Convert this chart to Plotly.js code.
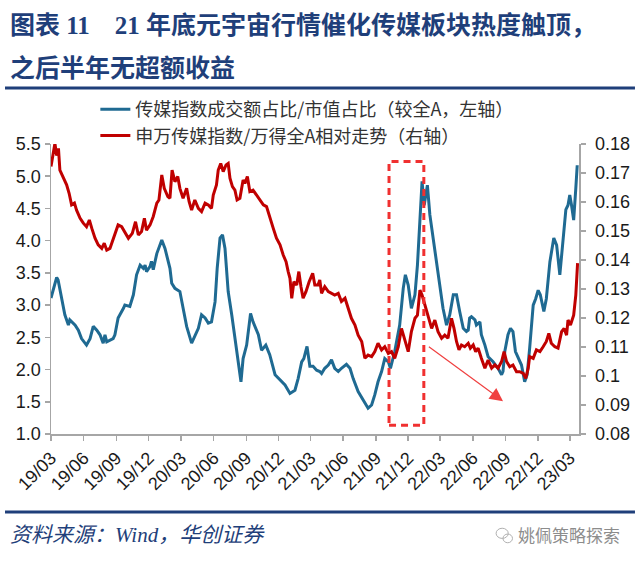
<!DOCTYPE html>
<html>
<head>
<meta charset="utf-8">
<script src="https://cdn.plot.ly/plotly-3.0.1.min.js"></script>
<style>html,body{margin:0;padding:0;background:#fff;}#chart{width:640px;height:566px;}</style>
</head>
<body>
<div id="chart"></div>
<script>
// ---- data ----
const seriesBlueName = '传媒指数成交额占比/市值占比（较全A，左轴）';
const seriesRedName = '申万传媒指数/万得全A相对走势（右轴）';

const blueDates = ['2019-03-01','2019-03-17','2019-03-21','2019-03-31','2019-04-09','2019-04-19','2019-04-23','2019-05-08','2019-05-17','2019-05-26','2019-06-09','2019-06-19','2019-06-28','2019-07-08','2019-07-17','2019-07-26','2019-07-31','2019-08-05','2019-08-14','2019-08-23','2019-08-28','2019-09-06','2019-09-21','2019-09-25','2019-10-09','2019-10-19','2019-10-28','2019-11-07','2019-11-16','2019-11-21','2019-11-25','2019-12-05','2019-12-09','2019-12-14','2019-12-24','2020-01-07','2020-01-16','2020-01-30','2020-02-04','2020-02-13','2020-02-27','2020-03-12','2020-03-17','2020-03-31','2020-04-09','2020-04-19','2020-04-28','2020-05-08','2020-05-17','2020-05-26','2020-06-05','2020-06-11','2020-06-19','2020-06-26','2020-07-03','2020-07-12','2020-07-22','2020-07-31','2020-08-09','2020-08-17','2020-08-23','2020-09-02','2020-09-13','2020-09-20','2020-10-05','2020-10-14','2020-10-26','2020-11-06','2020-11-21','2020-12-05','2020-12-19','2021-01-02','2021-01-16','2021-01-25','2021-02-04','2021-02-10','2021-02-19','2021-02-27','2021-03-08','2021-03-18','2021-03-27','2021-04-01','2021-04-10','2021-04-20','2021-04-29','2021-05-08','2021-05-18','2021-05-27','2021-06-10','2021-06-20','2021-06-29','2021-07-13','2021-07-27','2021-08-10','2021-08-20','2021-08-29','2021-09-07','2021-09-17','2021-09-26','2021-10-06','2021-10-12','2021-10-24','2021-11-07','2021-11-17','2021-11-23','2021-12-01','2021-12-10','2021-12-20','2021-12-27','2022-01-03','2022-01-09','2022-01-15','2022-01-24','2022-01-31','2022-02-09','2022-02-19','2022-02-28','2022-03-09','2022-03-19','2022-03-28','2022-04-07','2022-04-16','2022-04-25','2022-05-05','2022-05-14','2022-05-19','2022-05-23','2022-05-28','2022-06-07','2022-06-11','2022-06-21','2022-06-25','2022-07-05','2022-07-14','2022-07-28','2022-08-11','2022-08-21','2022-08-25','2022-08-30','2022-09-08','2022-09-15','2022-09-22','2022-09-29','2022-10-06','2022-10-16','2022-10-25','2022-11-01','2022-11-08','2022-11-18','2022-11-25','2022-12-02','2022-12-08','2022-12-18','2022-12-25','2023-01-04','2023-01-15','2023-01-23','2023-02-01','2023-02-10','2023-02-18','2023-02-24','2023-03-01','2023-03-06','2023-03-12','2023-03-18','2023-03-22'];
const blueVals = [3.11,3.43,3.39,3.10,2.85,2.69,2.77,2.69,2.61,2.48,2.38,2.48,2.67,2.61,2.54,2.41,2.54,2.43,2.46,2.48,2.54,2.80,2.95,3.00,2.98,3.16,3.47,3.62,3.57,3.62,3.52,3.60,3.68,3.55,3.80,4.01,3.88,3.57,3.34,3.26,3.21,2.80,2.67,2.41,2.51,2.64,2.85,2.80,2.72,2.74,3.05,3.57,4.04,4.09,3.88,3.21,2.85,2.48,2.07,1.81,2.17,2.38,2.87,2.74,2.54,2.30,2.38,2.23,1.92,1.84,1.76,1.63,1.68,1.86,2.12,2.17,2.36,2.05,2.05,1.99,1.97,1.94,2.02,2.07,2.15,2.02,1.97,2.02,2.08,2.02,1.86,1.66,1.53,1.40,1.45,1.61,1.81,1.97,2.17,2.12,2.02,2.28,2.69,3.26,3.47,3.31,2.95,3.16,3.62,4.24,4.92,4.55,4.86,4.40,4.04,3.67,3.31,2.95,2.69,2.85,3.16,3.16,2.90,2.64,2.59,2.61,2.80,2.82,2.77,2.69,2.74,2.54,2.38,2.20,2.12,2.02,1.92,1.97,2.28,2.54,2.64,2.59,2.28,2.20,2.07,1.81,1.92,2.33,3.00,3.10,3.23,3.16,2.90,3.10,3.67,4.04,3.93,3.47,3.98,4.48,4.55,4.71,4.55,4.32,4.81,5.17];

const redDates = ['2019-03-01','2019-03-07','2019-03-12','2019-03-17','2019-03-22','2019-03-26','2019-04-02','2019-04-07','2019-04-14','2019-04-21','2019-04-28','2019-05-06','2019-05-12','2019-05-22','2019-05-31','2019-06-09','2019-06-17','2019-06-24','2019-07-03','2019-07-12','2019-07-22','2019-07-29','2019-08-05','2019-08-14','2019-08-23','2019-09-06','2019-09-16','2019-09-25','2019-10-05','2019-10-16','2019-10-25','2019-11-02','2019-11-11','2019-11-19','2019-11-25','2019-12-05','2019-12-14','2019-12-24','2019-12-30','2020-01-07','2020-01-14','2020-01-24','2020-01-30','2020-02-05','2020-02-13','2020-02-21','2020-02-27','2020-03-07','2020-03-17','2020-03-24','2020-03-31','2020-04-09','2020-04-19','2020-04-28','2020-05-08','2020-05-17','2020-05-26','2020-05-31','2020-06-09','2020-06-14','2020-06-21','2020-06-28','2020-07-06','2020-07-12','2020-07-17','2020-07-24','2020-07-31','2020-08-06','2020-08-14','2020-08-23','2020-08-28','2020-09-04','2020-09-11','2020-09-20','2020-09-30','2020-10-09','2020-10-19','2020-10-28','2020-11-06','2020-11-16','2020-11-25','2020-12-05','2020-12-14','2020-12-22','2020-12-28','2021-01-02','2021-01-07','2021-01-13','2021-01-21','2021-01-27','2021-02-02','2021-02-08','2021-02-16','2021-02-25','2021-03-07','2021-03-13','2021-03-22','2021-03-27','2021-04-01','2021-04-10','2021-04-20','2021-04-29','2021-05-08','2021-05-18','2021-05-27','2021-06-06','2021-06-15','2021-06-24','2021-07-04','2021-07-13','2021-07-23','2021-08-01','2021-08-10','2021-08-20','2021-08-29','2021-09-07','2021-09-17','2021-09-26','2021-10-06','2021-10-15','2021-10-24','2021-11-03','2021-11-12','2021-11-22','2021-12-01','2021-12-10','2021-12-20','2021-12-27','2022-01-03','2022-01-09','2022-01-17','2022-01-26','2022-02-05','2022-02-14','2022-02-23','2022-03-05','2022-03-14','2022-03-23','2022-04-02','2022-04-09','2022-04-16','2022-04-23','2022-04-30','2022-05-09','2022-05-19','2022-05-25','2022-06-02','2022-06-09','2022-06-16','2022-06-25','2022-07-05','2022-07-14','2022-07-24','2022-08-02','2022-08-11','2022-08-21','2022-08-28','2022-09-04','2022-09-13','2022-09-22','2022-10-02','2022-10-11','2022-10-21','2022-10-28','2022-11-04','2022-11-08','2022-11-18','2022-11-27','2022-12-07','2022-12-16','2022-12-25','2023-01-01','2023-01-08','2023-01-18','2023-01-27','2023-02-06','2023-02-13','2023-02-20','2023-02-24','2023-03-03','2023-03-12','2023-03-18','2023-03-23'];
const redVals = [0.1722,0.1762,0.1802,0.1760,0.1785,0.1710,0.1693,0.1676,0.1659,0.1630,0.1590,0.1596,0.1572,0.1544,0.1527,0.1515,0.1538,0.1509,0.1475,0.1452,0.1440,0.1458,0.1434,0.1440,0.1475,0.1521,0.1515,0.1498,0.1475,0.1492,0.1532,0.1486,0.1498,0.1544,0.1503,0.1521,0.1550,0.1596,0.1607,0.1693,0.1647,0.1619,0.1613,0.1710,0.1670,0.1688,0.1647,0.1613,0.1647,0.1601,0.1572,0.1607,0.1578,0.1567,0.1596,0.1590,0.1578,0.1624,0.1659,0.1710,0.1733,0.1705,0.1728,0.1733,0.1682,0.1653,0.1641,0.1607,0.1613,0.1676,0.1664,0.1688,0.1636,0.1641,0.1624,0.1607,0.1590,0.1584,0.1544,0.1509,0.1475,0.1452,0.1417,0.1394,0.1360,0.1337,0.1268,0.1325,0.1314,0.1360,0.1308,0.1268,0.1291,0.1325,0.1354,0.1314,0.1314,0.1331,0.1285,0.1308,0.1291,0.1285,0.1279,0.1285,0.1257,0.1268,0.1233,0.1199,0.1176,0.1141,0.1119,0.1061,0.1072,0.1067,0.1084,0.1113,0.1090,0.1101,0.1078,0.1084,0.1061,0.1101,0.1164,0.1124,0.1084,0.1153,0.1199,0.1210,0.1296,0.1279,0.1245,0.1210,0.1164,0.1193,0.1153,0.1130,0.1141,0.1130,0.1199,0.1164,0.1119,0.1090,0.1107,0.1101,0.1113,0.1096,0.1107,0.1084,0.1096,0.1061,0.1027,0.1055,0.1027,0.1038,0.1027,0.1050,0.1084,0.1050,0.1032,0.1038,0.1015,0.1015,0.1009,0.0992,0.1027,0.1067,0.1061,0.1090,0.1084,0.1101,0.1119,0.1147,0.1113,0.1101,0.1096,0.1153,0.1164,0.1141,0.1193,0.1176,0.1210,0.1279,0.1389];

const xTickVals = ['2019-03-01','2019-06-01','2019-09-01','2019-12-01','2020-03-01','2020-06-01','2020-09-01','2020-12-01','2021-03-01','2021-06-01','2021-09-01','2021-12-01','2022-03-01','2022-06-01','2022-09-01','2022-12-01','2023-03-01'];
const xTickText = ['19/03','19/06','19/09','19/12','20/03','20/06','20/09','20/12','21/03','21/06','21/09','21/12','22/03','22/06','22/09','22/12','23/03'];
const leftTickVals = [1.0,1.5,2.0,2.5,3.0,3.5,4.0,4.5,5.0,5.5];
const leftTickText = ['1.0','1.5','2.0','2.5','3.0','3.5','4.0','4.5','5.0','5.5'];
const rightTickVals = [0.08,0.09,0.10,0.11,0.12,0.13,0.14,0.15,0.16,0.17,0.18];
const rightTickText = ['0.08','0.09','0.1','0.11','0.12','0.13','0.14','0.15','0.16','0.17','0.18'];

const titleLine1 = '图表 11&nbsp;&nbsp;&nbsp;&nbsp;21 年底元宇宙行情催化传媒板块热度触顶，';
const titleLine2 = '之后半年无超额收益';
const sourceText = '资料来源：Wind，华创证券';
const watermarkText = '姚佩策略探索';

// highlight box & arrow (data coordinates)
const boxX = ['2021-10-08','2022-01-14'];
const boxY = [1.135, 5.23];
const arrowFrom = ['2022-01-24', 2.37];
const arrowTo = ['2022-08-25', 1.51];

// ---- chart ----
const tickFont = {family:'Liberation Sans, Arial, sans-serif', size:18, color:'#1a1a1a'};
const axisColor = '#a6a6a6';
const navy = '#1F3F7A';

const traces = [
  {x: blueDates, y: blueVals, name: seriesBlueName, type:'scatter', mode:'lines',
   line:{color:'#1F6A92', width:3}, yaxis:'y'},
  {x: redDates, y: redVals, name: seriesRedName, type:'scatter', mode:'lines',
   line:{color:'#C00000', width:3}, yaxis:'y2'}
];

const layout = {
  width:640, height:566,
  margin:{l:51, r:61, t:144, b:132, pad:0},
  paper_bgcolor:'#fff', plot_bgcolor:'#fff',
  showlegend:true,
  legend:{x:0.084, y:1.183, xanchor:'left', yanchor:'top', bgcolor:'rgba(0,0,0,0)',
    font:{family:'Noto Sans CJK SC, sans-serif', size:18, color:'#333'}, tracegroupgap:0},
  xaxis:{type:'date', range:['2019-03-01','2023-03-27'], tickvals:xTickVals, ticktext:xTickText,
    tickangle:-45, tickfont:tickFont, showgrid:false, zeroline:false, showline:true,
    linecolor:axisColor, linewidth:1.5, ticks:'outside', ticklen:5, tickcolor:axisColor, tickwidth:1.5},
  yaxis:{range:[1,5.5], tickvals:leftTickVals, ticktext:leftTickText, tickfont:tickFont,
    showgrid:false, zeroline:false, showline:true, linecolor:axisColor, linewidth:1.5,
    ticks:'outside', ticklen:5, tickcolor:axisColor, tickwidth:1.5},
  yaxis2:{range:[0.08,0.18], tickvals:rightTickVals, ticktext:rightTickText, tickfont:tickFont,
    overlaying:'y', side:'right', showgrid:false, zeroline:false, showline:true,
    linecolor:axisColor, linewidth:1.5, ticks:'outside', ticklen:5, tickcolor:axisColor, tickwidth:1.5,
    ticklabelstandoff:6},
  shapes:[
    {type:'line', xref:'paper', yref:'paper', x0:-0.0871, x1:1.106, y0:1.193, y1:1.193,
     line:{color:navy, width:3}},
    {type:'line', xref:'paper', yref:'paper', x0:-0.0871, x1:1.106, y0:-0.269, y1:-0.269,
     line:{color:navy, width:3}},
    {type:'rect', xref:'x', yref:'y', x0:boxX[0], x1:boxX[1], y0:boxY[0], y1:boxY[1],
     line:{color:'#F03030', width:3, dash:'7px,5px'}, fillcolor:'rgba(0,0,0,0)'},
    {type:'circle', xref:'paper', yref:'paper', x0:0.843, x1:0.866, y0:-0.36, y1:-0.325,
     line:{color:'#b0b0b0', width:1}},
    {type:'circle', xref:'paper', yref:'paper', x0:0.856, x1:0.874, y0:-0.375, y1:-0.345,
     line:{color:'#b0b0b0', width:1}}
  ],
  annotations:[
    {xref:'paper', yref:'paper', x:-0.0814, y:1.407, xanchor:'left', yanchor:'middle', showarrow:false,
     text:'<b>'+titleLine1+'</b>', font:{family:'Liberation Serif, Noto Sans CJK SC, serif', size:25, color:navy}},
    {xref:'paper', yref:'paper', x:-0.0814, y:1.262, xanchor:'left', yanchor:'middle', showarrow:false,
     text:'<b>'+titleLine2+'</b>', font:{family:'Liberation Serif, Noto Sans CJK SC, serif', size:25, color:navy}},
    {xref:'paper', yref:'paper', x:-0.0814, y:-0.348, xanchor:'left', yanchor:'middle', showarrow:false,
     text:'<i>'+sourceText+'</i>', font:{family:'Liberation Serif, Noto Sans CJK SC, serif', size:21, color:navy}},
    {xref:'paper', yref:'paper', x:0.8807, y:-0.348, xanchor:'left', yanchor:'middle', showarrow:false,
     text:watermarkText, font:{family:'Noto Sans CJK SC, sans-serif', size:17, color:'#8c8c8c'}},
    {xref:'x', yref:'y', axref:'x', ayref:'y', x:arrowTo[0], y:arrowTo[1], ax:arrowFrom[0], ay:arrowFrom[1],
     showarrow:true, arrowhead:2, arrowsize:2.2, arrowwidth:1.2, arrowcolor:'#F04040', text:''}
  ]
};

Plotly.newPlot('chart', traces, layout, {displayModeBar:false, staticPlot:true});
</script>
</body>
</html>
